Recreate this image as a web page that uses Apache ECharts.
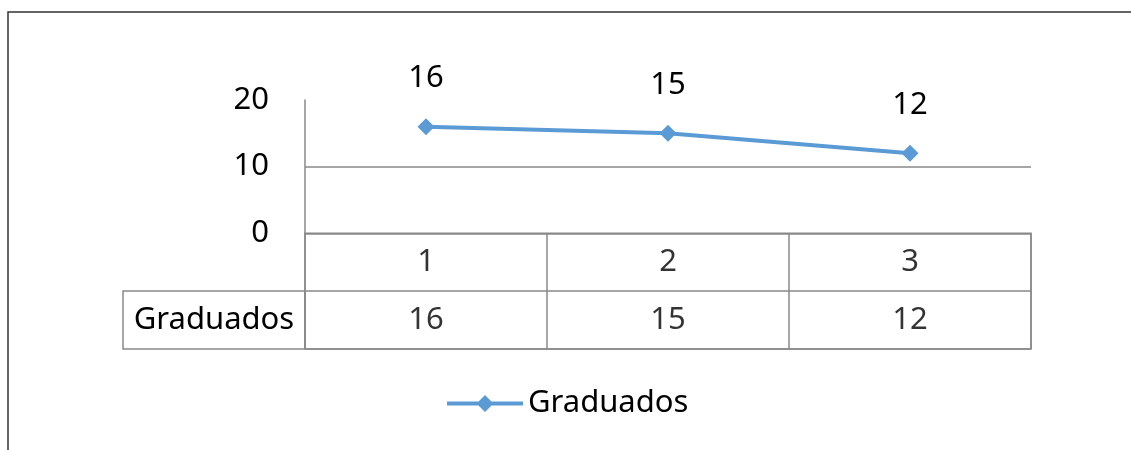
<!DOCTYPE html>
<html>
<head>
<meta charset="utf-8">
<script src="https://cdn.jsdelivr.net/npm/echarts@6/dist/echarts.min.js"></script>
<style>
  html, body { margin: 0; padding: 0; background: #fff; }
  #chart { width: 1131px; height: 450px; }
</style>
</head>
<body>
<div id="chart"></div>
<script>
// Graduates per period, shown as a line with a data table below it
const categories = ['1', '2', '3'];
const seriesName = 'Graduados';
const graduados = [16, 15, 12];
const yTicks = { min: 0, max: 20, interval: 10 };

const FONT = 'Noto Sans';
const GRID_GRAY = '#898989';
const LINE_BLUE = '#5B9BD5';

// legend key: a thick line segment with a diamond marker in the middle
const LEGEND_ICON = 'path://M0,6.5 L31.5,6.5 L38,0 L44.5,6.5 L76,6.5 L76,10.5 L44.5,10.5 L38,17 L31.5,10.5 L0,10.5 Z';

// table rows: first row holds the category headers, second row the values
const tableRows = ['__header__', seriesName];
const tableCells = [];
categories.forEach((c, i) => {
  tableCells.push({ value: [c, tableRows[0]], text: c });
  tableCells.push({ value: [c, tableRows[1]], text: String(graduados[i]) });
});

const chart = echarts.init(document.getElementById('chart'), null, { renderer: 'canvas' });

chart.setOption({
  backgroundColor: '#fff',
  animation: false,
  textStyle: { fontFamily: FONT },
  graphic: [{
    type: 'rect',
    shape: { x: 8, y: 12, width: 1400, height: 800 },
    style: { fill: 'none', stroke: '#333', lineWidth: 1.5 },
    silent: true
  }],
  grid: [
    { left: 305, top: 100, width: 726, height: 133.3, containLabel: false },
    { left: 305, top: 233.3, width: 726, height: 115.7, show: true,
      borderColor: GRID_GRAY, borderWidth: 1.5, backgroundColor: 'transparent' }
  ],
  xAxis: [
    { gridIndex: 0, type: 'category', data: categories, boundaryGap: true,
      axisLine: { show: false }, axisTick: { show: false }, axisLabel: { show: false } },
    { gridIndex: 1, type: 'category', data: categories, boundaryGap: true, position: 'top',
      axisLine: { show: false }, axisTick: { show: false }, axisLabel: { show: false },
      splitLine: { show: true, interval: 0, lineStyle: { color: GRID_GRAY, width: 1.5 } } }
  ],
  yAxis: [
    { gridIndex: 0, type: 'value', min: yTicks.min, max: yTicks.max, interval: yTicks.interval,
      axisLine: { show: true, lineStyle: { color: GRID_GRAY, width: 1.5 } },
      axisTick: { show: false },
      axisLabel: { color: '#000', fontSize: 31, fontFamily: FONT, margin: 36 },
      splitLine: { show: true, lineStyle: { color: ['transparent', GRID_GRAY, 'transparent'], width: 1.5 } } },
    { gridIndex: 1, type: 'category', data: tableRows, inverse: true,
      axisLine: { show: false }, axisTick: { show: false },
      splitLine: { show: true, interval: 0, lineStyle: { color: GRID_GRAY, width: 1.5 } },
      axisLabel: {
        margin: 0,
        formatter: v => v === '__header__' ? '' : '{box|' + v + '}',
        rich: {
          box: {
            width: 182, height: 58, lineHeight: 58, align: 'center',
            borderColor: GRID_GRAY, borderWidth: 1.5,
            color: '#000', fontSize: 31, fontFamily: FONT
          }
        }
      } }
  ],
  legend: {
    data: [{ name: seriesName, icon: LEGEND_ICON }],
    left: 447, top: 388, padding: 0,
    itemWidth: 76, itemHeight: 17, itemGap: 10,
    itemStyle: { color: LINE_BLUE, borderWidth: 0 },
    textStyle: { color: '#000', fontSize: 31, fontFamily: FONT }
  },
  series: [
    {
      name: seriesName, type: 'line', xAxisIndex: 0, yAxisIndex: 0,
      data: graduados,
      symbol: 'diamond', symbolSize: 17,
      lineStyle: { color: LINE_BLUE, width: 4 },
      itemStyle: { color: LINE_BLUE },
      label: { show: true, position: 'top', distance: 24, color: '#000', fontSize: 31, fontFamily: FONT }
    },
    {
      name: 'tabla', type: 'scatter', xAxisIndex: 1, yAxisIndex: 1,
      data: tableCells.map(c => ({ value: c.value, text: c.text })),
      symbolSize: 0, silent: true,
      label: { show: true, position: 'inside', formatter: p => p.data.text,
        color: '#000', fontSize: 31, fontFamily: FONT }
    }
  ]
});
</script>
</body>
</html>
